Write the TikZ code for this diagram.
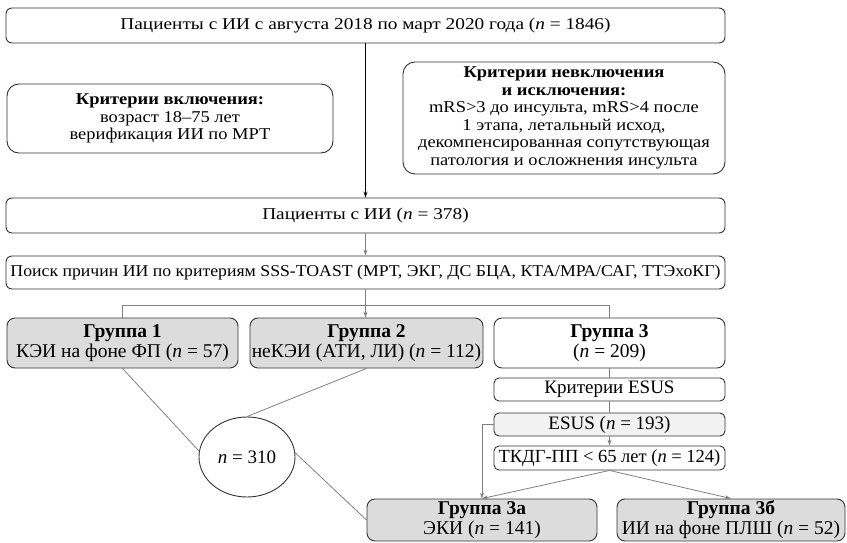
\documentclass[tikz,border=0pt]{standalone}
\usepackage{fontspec}
\setmainfont{Liberation Serif}
\usetikzlibrary{arrows.meta,shapes.geometric}
\definecolor{gfill}{HTML}{DCDCDC}
\definecolor{lfill}{HTML}{F2F2F2}
\definecolor{lgray}{HTML}{808080}
\definecolor{bord}{HTML}{333333}
\newcommand{\wfont}[2]{\fontsize{#1}{#2}\selectfont}
\tikzset{
  box/.style={draw=bord, line width=0.9pt, rounded corners=6pt, inner sep=0pt, align=center},
  upbox/.style={box, font=\wfont{16.5}{17.5}\addfontfeature{FakeStretch=1.17}},
  bigbox/.style={box, rounded corners=12pt, font=\wfont{16.5}{17.5}\addfontfeature{FakeStretch=1.12}},
  grp/.style={box, rounded corners=8pt, fill=gfill, font=\wfont{19.5}{20}\selectfont,
    execute at begin node={\rule{0pt}{24pt}}},
  wgrp/.style={grp, fill=white},
  sbox/.style={box, rounded corners=5pt, font=\wfont{19}{19}\selectfont},
  gl/.style={draw=lgray, line width=0.8pt},
  arr/.style={gl, -{Stealth[length=6pt,width=4pt]}},
  barr/.style={draw=black, line width=0.8pt, -{Stealth[length=6pt,width=4pt]}}
}
\begin{document}
\begin{tikzpicture}[x=1pt,y=-1pt]
\useasboundingbox (0,0) rectangle (847,543);
\node[upbox, minimum width=719pt, minimum height=35pt] (top) at (365.5,25.5)
  {Пациенты с ИИ с августа 2018 по март 2020 года (\textit{n} = 1846)};
\node[bigbox, minimum width=326pt, minimum height=69pt] (incl) at (170,118.5)
  {\textbf{Критерии включения:}\\возраст 18–75 лет\\верификация ИИ по МРТ};
\node[bigbox, minimum width=322pt, minimum height=112pt] (excl) at (564,118)
  {\textbf{Критерии невключения}\\\textbf{и исключения:}\\mRS>3 до инсульта, mRS>4 после\\1 этапа, летальный исход,\\декомпенсированная сопутствующая\\патология и осложнения инсульта};
\node[upbox, minimum width=719pt, minimum height=35pt] (pat) at (365.5,215.5)
  {Пациенты с ИИ (\textit{n} = 378)};
\node[box, font=\wfont{16.5}{17.5}\addfontfeature{FakeStretch=1.075}, minimum width=719pt, minimum height=33pt] (search) at (365.5,272.5)
  {Поиск причин ИИ по критериям SSS-TOAST (МРТ, ЭКГ, ДС БЦА, КТА/МРА/САГ, ТТЭхоКГ)};
\node[grp, minimum width=231pt, minimum height=50pt] (g1) at (122.5,343)
  {\textbf{Группа 1}\\КЭИ на фоне ФП (\textit{n} = 57)};
\node[grp, minimum width=233pt, minimum height=50pt] (g2) at (366.5,343)
  {\textbf{Группа 2}\\неКЭИ (АТИ, ЛИ) (\textit{n} = 112)};
\node[wgrp, minimum width=231pt, minimum height=50pt] (g3) at (609.5,343)
  {\textbf{Группа 3}\\(\textit{n} = 209)};
\node[sbox, minimum width=231pt, minimum height=23pt] (crit) at (609.5,389.5)
  {Критерии ESUS};
\node[sbox, fill=lfill, minimum width=231pt, minimum height=23pt] (esus) at (609.5,424.5)
  {ESUS (\textit{n} = 193)};
\node[sbox, font=\wfont{18.5}{19}\selectfont, minimum width=231pt, minimum height=24pt] (tkdg) at (609.5,458)
  {ТКДГ-ПП < 65 лет (\textit{n} = 124)};
\node[grp, minimum width=230pt, minimum height=42pt] (g3a) at (482,520)
  {\textbf{Группа 3а}\\ЭКИ (\textit{n} = 141)};
\node[grp, minimum width=228pt, minimum height=42pt] (g3b) at (731,520)
  {\textbf{Группа 3б}\\ИИ на фоне ПЛШ (\textit{n} = 52)};
\node[draw=bord, line width=0.9pt, ellipse, minimum width=96pt, minimum height=80pt, inner sep=0pt, font=\wfont{19}{20}\selectfont] (ell) at (247,457)
  {\textit{n} = 310};
% connectors
\draw[barr] (top.south) -- (pat.north);
\draw[arr] (pat.south) -- (search.north);
\draw[arr] (search.south) -- (search.south |- g2.north);
\draw[gl] (g1.north) -- (g1.north |- 0,305) -- (g3.north |- 0,305) -- (g3.north);
\draw[gl] (g3.south) -- (crit.north);
\draw[gl] (crit.south) -- (esus.north);
\draw[arr] (esus.south) -- (tkdg.north);
\draw[arr] (esus.west) -| (g3a.north);
\draw[arr] (tkdg.south) -- (g3a.north);
\draw[arr] (tkdg.south) -- (g3b.north);
\draw[gl] (g1.south) -- (ell.173);
\draw[gl] (g2.south) -- (ell.north);
\draw[gl] (ell.5) -- (g3a.west);
\end{tikzpicture}
\end{document}
